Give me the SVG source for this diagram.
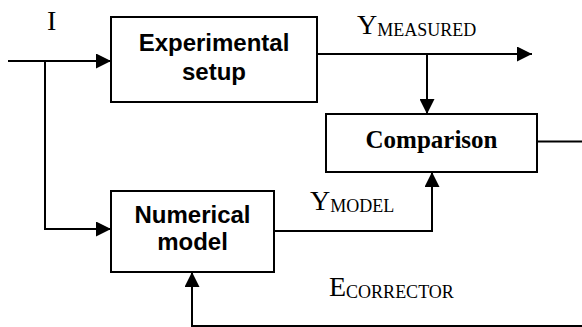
<svg xmlns="http://www.w3.org/2000/svg" width="582" height="327" viewBox="0 0 582 327">
<style>
.box{fill:#fff;stroke:#000;stroke-width:2}
.ln{fill:none;stroke:#000;stroke-width:2}
.sans{font-family:"Liberation Sans",Arial,sans-serif;font-weight:bold;font-size:24px;text-anchor:middle;fill:#000}
.serif{font-family:"Liberation Serif","Times New Roman",serif;fill:#000}
.big{font-size:28px}
.sub{font-size:18px}
</style>
<defs>
<marker id="arr" markerUnits="userSpaceOnUse" markerWidth="15" markerHeight="15" refX="15" refY="7.5" orient="auto">
<path d="M0,0 L15,7.5 L0,15 z" fill="#000"/>
</marker>
</defs>
<rect width="582" height="327" fill="#fff"/>
<g id="connectors">
<path class="ln" d="M8,61 H111" marker-end="url(#arr)"/>
<path class="ln" d="M45,61 V229 H111" marker-end="url(#arr)"/>
<path class="ln" d="M317,54 H532" marker-end="url(#arr)"/>
<path class="ln" d="M427,54 V114" marker-end="url(#arr)"/>
<path class="ln" d="M274,231 H432 V172" marker-end="url(#arr)"/>
<path class="ln" d="M537,141.5 H582"/>
<path class="ln" d="M582,326 H192 V272" marker-end="url(#arr)"/>
</g>
<g id="experimental-setup">
<rect class="box" x="111" y="17" width="206" height="85"/>
<text class="sans" x="214" y="51">Experimental</text>
<text class="sans" x="214" y="80">setup</text>
</g>
<g id="numerical-model">
<rect class="box" x="111" y="191" width="163" height="81"/>
<text class="sans" x="192.5" y="223">Numerical</text>
<text class="sans" x="192.5" y="250">model</text>
</g>
<g id="comparison">
<rect class="box" x="326" y="114" width="211" height="58"/>
<text class="serif" x="431.5" y="148" font-size="25" font-weight="bold" text-anchor="middle">Comparison</text>
</g>
<g id="labels">
<text class="serif big" x="47" y="30">I</text>
<text class="serif" x="357" y="34"><tspan class="big">Y</tspan><tspan class="sub" dy="1.5">MEASURED</tspan></text>
<text class="serif" x="310" y="210"><tspan class="big">Y</tspan><tspan class="sub" dy="1.5">MODEL</tspan></text>
<text class="serif" x="329" y="296"><tspan class="big">E</tspan><tspan class="sub" dy="1.5">CORRECTOR</tspan></text>
</g>
</svg>
